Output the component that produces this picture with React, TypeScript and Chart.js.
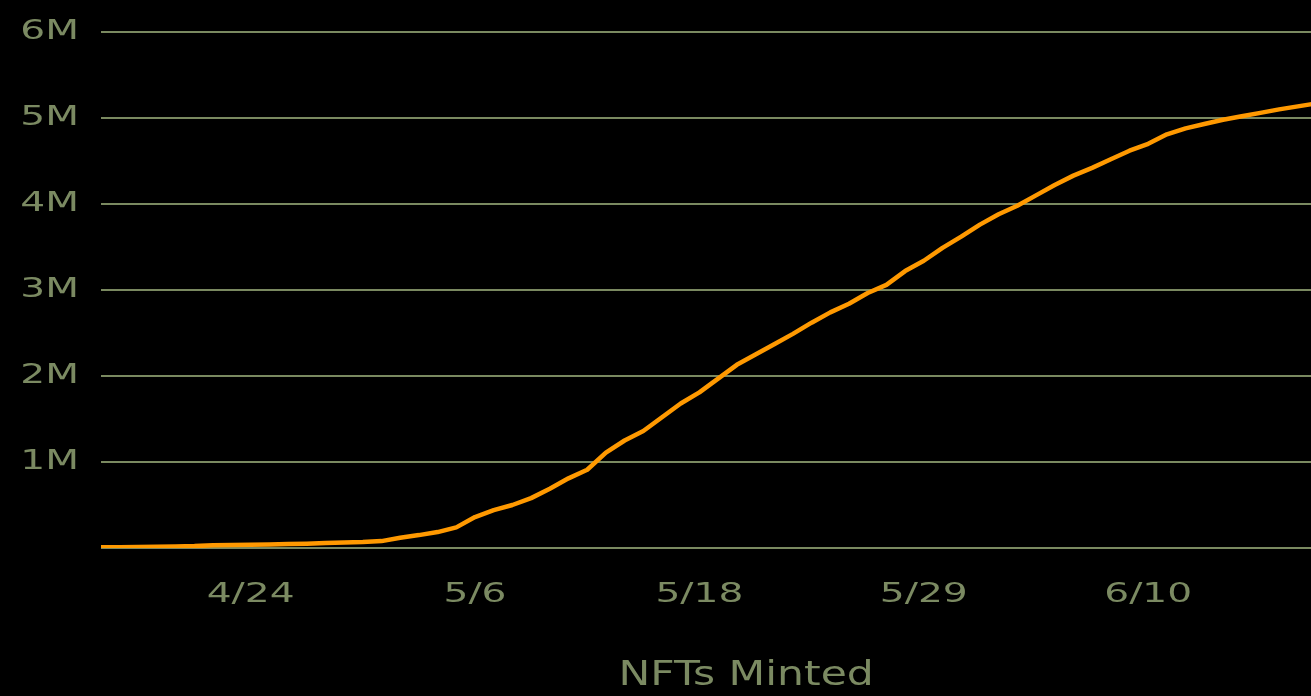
import React, { useEffect, useRef } from "react";
import { Chart, registerables } from "chart.js";

Chart.register(...registerables);

// Daily snapshot dates (one day has two snapshots)
const dates = [
  "4/16", "4/17", "4/18", "4/19", "4/20", "4/21", "4/22", "4/23", "4/24", "4/25",
  "4/26", "4/27", "4/28", "4/29", "4/30", "5/1", "5/2", "5/3", "5/4", "5/5",
  "5/6", "5/7", "5/8", "5/9", "5/10", "5/11", "5/12", "5/13", "5/14", "5/15",
  "5/16", "5/17", "5/18", "5/19", "5/20", "5/21", "5/22", "5/23", "5/23", "5/24",
  "5/25", "5/26", "5/27", "5/28", "5/29", "5/30", "5/31", "6/1", "6/2", "6/3",
  "6/4", "6/5", "6/6", "6/7", "6/8", "6/9", "6/10", "6/11", "6/12", "6/13",
  "6/14", "6/15", "6/16", "6/17", "6/18", "6/19", "6/20", "6/21", "6/22", "6/23",
];

// Cumulative NFTs minted
const nftsMinted = [
  10000, 10000, 12000, 15000, 18000, 22000, 32000, 35000, 38000, 42000,
  46000, 50000, 58000, 65000, 70000, 80000, 120000, 150000, 185000, 240000,
  360000, 440000, 500000, 580000, 690000, 810000, 910000, 1110000, 1250000, 1360000,
  1520000, 1680000, 1810000, 1970000, 2130000, 2250000, 2370000, 2490000, 2620000, 2740000,
  2840000, 2965000, 3060000, 3220000, 3340000, 3490000, 3620000, 3760000, 3880000, 3980000,
  4100000, 4220000, 4330000, 4420000, 4520000, 4620000, 4700000, 4810000, 4880000, 4930000,
  4980000, 5020000, 5060000, 5100000, 5135000, 5170000, 5200000, 5230000, 5260000, 5290000,
];

const shownDateTicks = ["4/24", "5/6", "5/18", "5/29", "6/10"];
const yTickValues = [0, 1000000, 2000000, 3000000, 4000000, 5000000, 6000000];

const TEXT_COLOR = "#7b8a62";
const GRID_COLOR = "#7a8960";
const LINE_COLOR = "#ff9900";
const FONT_FAMILY = "'DejaVu Sans', sans-serif";

// Emulates the wide (extended) typeface of the original by stretching text horizontally
const stretchPlugin = {
  id: "stretchText",
  beforeDraw(chart: any) {
    const ctx: any = chart.ctx;
    if (ctx.__stretched) return;
    ctx.__stretched = true;
    const orig = ctx.fillText;
    ctx.fillText = function (text: string, x: number, y: number, maxWidth?: number) {
      const m = /(\d+(?:\.\d+)?)px/.exec(this.font);
      const size = m ? parseFloat(m[1]) : 12;
      const sx = size >= 30 ? 1.25 : 1.45;
      this.save();
      this.translate(x, y);
      this.scale(sx, 1);
      if (maxWidth === undefined) orig.call(this, text, 0, 0);
      else orig.call(this, text, 0, 0, maxWidth / sx);
      this.restore();
    };
  },
};

export default function App() {
  const canvasRef = useRef<HTMLCanvasElement | null>(null);

  useEffect(() => {
    if (!canvasRef.current) return;
    const chart = new Chart(canvasRef.current, {
      type: "line",
      data: {
        labels: dates,
        datasets: [
          {
            label: "NFTs Minted",
            data: nftsMinted,
            borderColor: LINE_COLOR,
            backgroundColor: LINE_COLOR,
            borderWidth: 4.5,
            borderJoinStyle: "round",
            pointRadius: 0,
            pointHoverRadius: 0,
            tension: 0,
            fill: false,
          },
        ],
      },
      options: {
        animation: false,
        responsive: false,
        maintainAspectRatio: false,
        layout: { padding: { top: 32, right: 8.7, bottom: 0, left: 0 } },
        plugins: {
          legend: { display: false },
          tooltip: { enabled: false },
        },
        scales: {
          x: {
            type: "category",
            offset: false,
            grid: { display: false, drawTicks: false },
            border: { display: false },
            ticks: {
              autoSkip: false,
              maxRotation: 0,
              minRotation: 0,
              padding: 31,
              color: TEXT_COLOR,
              font: { family: FONT_FAMILY, size: 27 },
              callback: (_v: any, idx: number) =>
                shownDateTicks.includes(dates[idx]) ? dates[idx] : "",
            },
            title: {
              display: true,
              text: "NFTs Minted",
              color: TEXT_COLOR,
              font: { family: FONT_FAMILY, size: 34 },
              padding: { top: 0, bottom: -1 },
            },
            afterFit: (scale: any) => {
              scale.height = 148;
              scale.paddingLeft = 0;
              scale.paddingRight = 0;
            },
          },
          y: {
            min: 0,
            max: 6000000,
            grid: { color: GRID_COLOR, lineWidth: 2, drawTicks: false },
            border: { display: false },
            afterBuildTicks: (scale: any) => {
              scale.ticks = yTickValues.map((v) => ({ value: v }));
            },
            ticks: {
              padding: 22,
              color: TEXT_COLOR,
              font: { family: FONT_FAMILY, size: 27 },
              callback: (v: any) => (Number(v) === 0 ? "" : `${Number(v) / 1000000}M`),
            },
            afterFit: (scale: any) => {
              scale.width = 101;
              scale.paddingTop = 0;
              scale.paddingBottom = 0;
            },
          },
        },
      },
      plugins: [stretchPlugin],
    });
    return () => chart.destroy();
  }, []);

  return (
    <div
      style={{
        position: "fixed",
        left: 0,
        top: 0,
        width: 1311,
        height: 696,
        overflow: "hidden",
        background: "#000000",
      }}
    >
      <canvas
        ref={canvasRef}
        width={1400}
        height={696}
        style={{ display: "block", width: 1400, height: 696 }}
      />
    </div>
  );
}
